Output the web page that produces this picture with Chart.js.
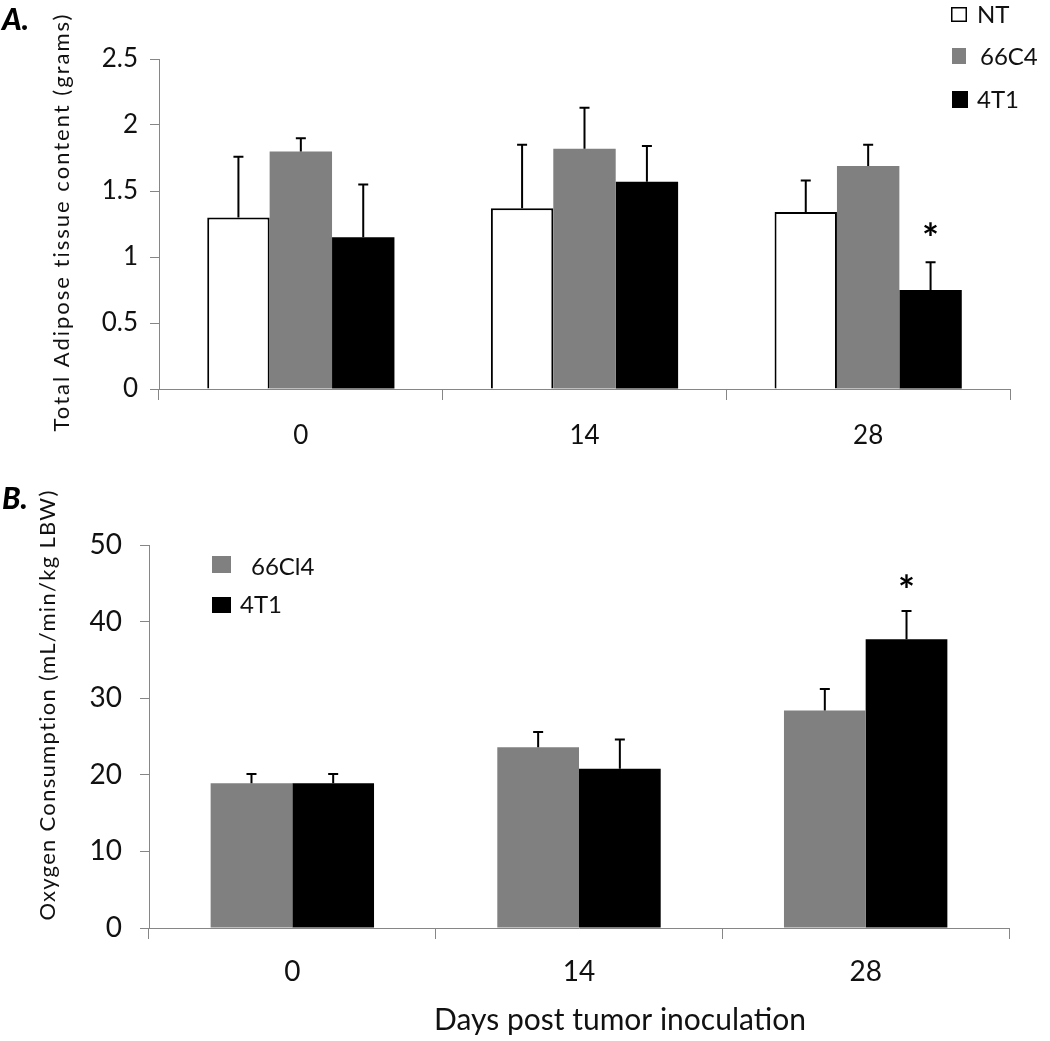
<!DOCTYPE html>
<html>
<head>
<meta charset="utf-8">
<script src="https://cdn.jsdelivr.net/npm/chart.js@4"></script>
<style>
    html, body { margin: 0; padding: 0; background: #fff; }
    #wrap { position: relative; width: 1050px; height: 1041px; }
    .panel { position: absolute; left: 0; }
</style>
</head>
<body>
<div id="wrap">
    <canvas id="chartA" class="panel" width="1050" height="480" style="top:0"></canvas>
    <canvas id="chartB" class="panel" width="1050" height="561" style="top:480px"></canvas>
</div>
<script>
// Data
const days = ['0', '14', '28'];

// Panel A - total adipose tissue (grams), bar value and error bar length
const ntFat = [1.30, 1.37, 1.34];
const ntFatErr = [0.46, 0.48, 0.24];
const c66Fat = [1.80, 1.82, 1.69];
const c66FatErr = [0.10, 0.31, 0.16];
const t41Fat = [1.15, 1.57, 0.75];
const t41FatErr = [0.40, 0.27, 0.21];
const t41FatSig = [false, false, true];

// Panel B - oxygen consumption (mL/min/kg LBW)
const c66Oxy = [18.9, 23.6, 28.4];
const c66OxyErr = [1.2, 2.0, 2.8];
const t41Oxy = [18.9, 20.8, 37.7];
const t41OxyErr = [1.2, 3.8, 3.7];
const t41OxySig = [false, false, true];

const FONT = 'Lato, "Open Sans", sans-serif';
const AXIS_GREY = '#868686';
const GREY_BAR = '#808080';

// Error bars, asterisks, legend boxes and titles
const decoPlugin = {
    id: 'deco',
    afterDatasetsDraw(chart, args, opts) {
        const ctx = chart.ctx;
        const yScale = chart.scales.y;
        ctx.save();

        // error bars (upper half only, like the original)
        chart.data.datasets.forEach((ds, di) => {
            const meta = chart.getDatasetMeta(di);
            meta.data.forEach((bar, i) => {
                const top = yScale.getPixelForValue(ds.data[i]);
                const errTop = yScale.getPixelForValue(ds.data[i] + ds.errors[i]);
                ctx.strokeStyle = '#000';
                ctx.lineWidth = 2;
                ctx.beginPath();
                ctx.moveTo(bar.x, top);
                ctx.lineTo(bar.x, errTop);
                ctx.moveTo(bar.x - 5, errTop);
                ctx.lineTo(bar.x + 5, errTop);
                ctx.stroke();

                if (ds.sig && ds.sig[i]) {
                    ctx.fillStyle = '#000';
                    ctx.font = 'bold ' + opts.starSize + 'px ' + FONT;
                    ctx.textAlign = 'center';
                    ctx.textBaseline = 'alphabetic';
                    ctx.fillText('*', bar.x, errTop - opts.starGap + 0.56 * opts.starSize);
                }
            });
        });

        // legend
        opts.legend.forEach(item => {
            const ds = chart.data.datasets[item.ds];
            ctx.fillStyle = ds.backgroundColor;
            ctx.fillRect(item.x, item.y, item.w, item.h);
            if (ds.borderWidth) {
                ctx.strokeStyle = '#000';
                ctx.lineWidth = 1.5;
                ctx.strokeRect(item.x + 0.75, item.y + 0.75, item.w - 1.5, item.h - 1.5);
            }
            ctx.fillStyle = '#111';
            ctx.font = opts.legendSize + 'px ' + FONT;
            ctx.textAlign = 'left';
            ctx.textBaseline = 'middle';
            ctx.fillText(ds.label, item.tx, item.ty);
        });

        // panel letter
        ctx.fillStyle = '#000';
        ctx.font = 'italic 900 30px ' + FONT;
        ctx.textAlign = 'left';
        ctx.textBaseline = 'middle';
        ctx.fillText(opts.letter, 2, opts.letterY);

        // y title
        ctx.save();
        ctx.translate(opts.yTitleX, opts.yTitleY);
        ctx.rotate(-Math.PI / 2);
        ctx.font = opts.yTitleSize + 'px ' + FONT;
        ctx.letterSpacing = opts.yTitleSpacing + 'px';
        ctx.textAlign = 'center';
        ctx.textBaseline = 'middle';
        ctx.fillStyle = '#111';
        ctx.fillText(opts.yTitle, 0, 0);
        ctx.restore();

        // x title
        if (opts.xTitle) {
            ctx.fillStyle = '#111';
            ctx.font = opts.xTitleSize + 'px ' + FONT;
            ctx.textAlign = 'center';
            ctx.textBaseline = 'middle';
            ctx.fillText(opts.xTitle, opts.xTitleX, opts.xTitleY);
        }
        ctx.restore();
    }
};

function axes(cfg) {
    return {
        x: {
            grid: { offset: true, drawOnChartArea: false, tickLength: 11, color: AXIS_GREY },
            border: { color: AXIS_GREY },
            ticks: { color: '#111', font: { family: FONT, size: cfg.tickSize }, padding: cfg.xPad },
            afterFit: s => { s.height = cfg.xHeight; }
        },
        y: {
            min: 0,
            max: cfg.max,
            grid: { drawOnChartArea: false, tickLength: 9, color: AXIS_GREY },
            border: { color: AXIS_GREY },
            ticks: {
                stepSize: cfg.step,
                color: '#111',
                font: { family: FONT, size: cfg.tickSize },
                padding: cfg.yPad,
                callback: v => String(Math.round(v * 10) / 10)
            },
            afterFit: s => { s.width = cfg.yWidth; }
        }
    };
}

// Panel A
new Chart(document.getElementById('chartA'), {
    type: 'bar',
    data: {
        labels: days,
        datasets: [
            { label: 'NT', data: ntFat, errors: ntFatErr, backgroundColor: '#fff', borderColor: '#000', borderWidth: 2 },
            { label: '66C4', data: c66Fat, errors: c66FatErr, backgroundColor: GREY_BAR, borderWidth: 0 },
            { label: '4T1', data: t41Fat, errors: t41FatErr, sig: t41FatSig, backgroundColor: '#000', borderWidth: 0 }
        ]
    },
    options: {
        responsive: false,
        animation: false,
        layout: { padding: { top: 59, right: 40, left: 0, bottom: 0 } },
        datasets: { bar: { categoryPercentage: 0.66, barPercentage: 1 } },
        plugins: {
            legend: { display: false },
            tooltip: { enabled: false },
            deco: {
                letter: 'A.', letterY: 20,
                yTitle: 'Total Adipose tissue content (grams)', yTitleX: 62, yTitleY: 222,
                yTitleSize: 22, yTitleSpacing: 2.0,
                starSize: 40, starGap: 32,
                legendSize: 24,
                legend: [
                    { ds: 0, x: 951, y: 7, w: 16, h: 15, tx: 977, ty: 15 },
                    { ds: 1, x: 952, y: 48, w: 14, h: 16, tx: 980, ty: 57 },
                    { ds: 2, x: 952, y: 91, w: 16, h: 17, tx: 977, ty: 100 }
                ]
            }
        },
        scales: axes({ max: 2.5, step: 0.5, tickSize: 26, xPad: 20, yPad: 12, xHeight: 91, yWidth: 159 })
    },
    plugins: [decoPlugin]
});

// Panel B
new Chart(document.getElementById('chartB'), {
    type: 'bar',
    data: {
        labels: days,
        datasets: [
            { label: '66Cl4', data: c66Oxy, errors: c66OxyErr, backgroundColor: GREY_BAR, borderWidth: 0 },
            { label: '4T1', data: t41Oxy, errors: t41OxyErr, sig: t41OxySig, backgroundColor: '#000', borderWidth: 0 }
        ]
    },
    options: {
        responsive: false,
        animation: false,
        layout: { padding: { top: 65, right: 41, left: 0, bottom: 0 } },
        datasets: { bar: { categoryPercentage: 0.57, barPercentage: 1 } },
        plugins: {
            legend: { display: false },
            tooltip: { enabled: false },
            deco: {
                letter: 'B.', letterY: 19,
                yTitle: 'Oxygen Consumption (mL/min/kg LBW)', yTitleX: 48, yTitleY: 225,
                yTitleSize: 22, yTitleSpacing: 1.3,
                xTitle: 'Days post tumor inoculation', xTitleX: 620, xTitleY: 540, xTitleSize: 30,
                starSize: 40, starGap: 28,
                legendSize: 24,
                legend: [
                    { ds: 0, x: 212, y: 76, w: 19, h: 17, tx: 251, ty: 87 },
                    { ds: 1, x: 212, y: 117, w: 19, h: 16, tx: 240, ty: 125 }
                ]
            }
        },
        scales: axes({ max: 50, step: 10, tickSize: 28, xPad: 16, yPad: 18, xHeight: 113, yWidth: 149 })
    },
    plugins: [decoPlugin]
});
</script>
</body>
</html>
